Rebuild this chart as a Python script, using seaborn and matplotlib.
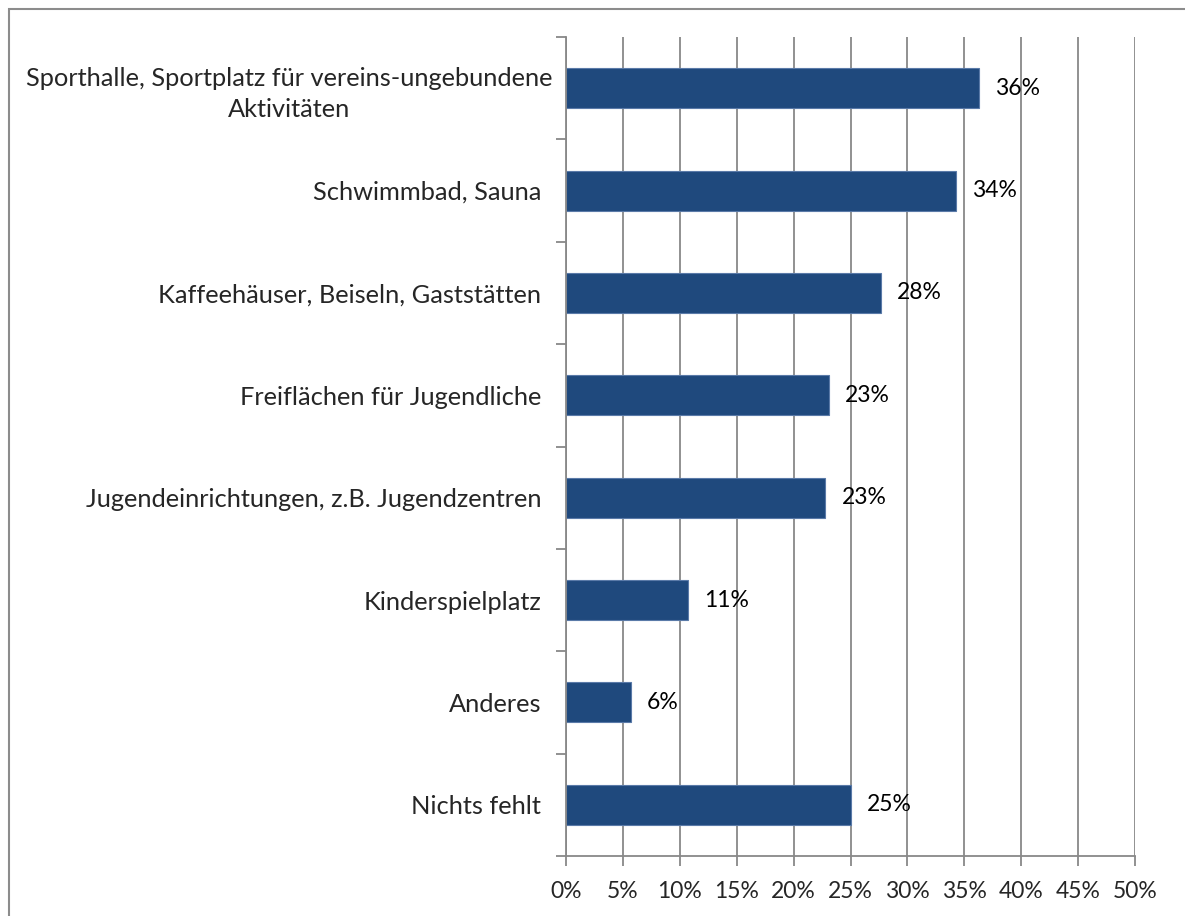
import matplotlib
matplotlib.use('Agg')
import matplotlib.pyplot as plt
import matplotlib.transforms as mtransforms
from matplotlib.patches import Rectangle
from matplotlib.ticker import FixedLocator, PercentFormatter
import pandas as pd
import seaborn as sns

categories = [
    'Sporthalle, Sportplatz für vereins-ungebundene\nAktivitäten',
    'Schwimmbad, Sauna',
    'Kaffeehäuser, Beiseln, Gaststätten',
    'Freiflächen für Jugendliche',
    'Jugendeinrichtungen, z.B. Jugendzentren',
    'Kinderspielplatz',
    'Anderes',
    'Nichts fehlt',
]
values = [36.3, 34.3, 27.7, 23.1, 22.8, 10.7, 5.7, 25.0]
value_labels = ['36%', '34%', '28%', '23%', '23%', '11%', '6%', '25%']
x_ticks = [0, 5, 10, 15, 20, 25, 30, 35, 40, 45, 50]

sns.set_style('white')
plt.rcParams['font.family'] = ['Lato', 'DejaVu Sans']

df = pd.DataFrame({'category': categories, 'value': values})

fig = plt.figure(figsize=(11.85, 9.16), dpi=100)
ax = fig.add_axes([566 / 1185, 1 - 856 / 916, (1135 - 566) / 1185, (856 - 37) / 916])

grid_col = '#888888'
ax.set_xlim(0, 50)
ax.set_xticks(x_ticks)
ax.xaxis.grid(True, color=grid_col, linewidth=1.3)
ax.set_axisbelow(True)

sns.barplot(data=df, x='value', y='category', orient='h', color='#1F497D',
            width=0.39, edgecolor='#5A7AA8', linewidth=0.8, saturation=1, ax=ax)

for i, (v, lab) in enumerate(zip(values, value_labels)):
    ax.text(v + 1.4, i, lab, va='center', ha='left', fontsize=16.5, color='black')

ax.set_ylim(len(categories) - 0.5, -0.5)
ax.set_xlabel('')
ax.set_ylabel('')
ax.xaxis.set_major_formatter(PercentFormatter(decimals=0))

for s in ['top', 'right']:
    ax.spines[s].set_visible(False)
for s in ['left', 'bottom']:
    ax.spines[s].set_color(grid_col)
    ax.spines[s].set_linewidth(1.3)

ax.tick_params(axis='x', direction='out', length=7, width=1.3, color=grid_col,
               labelsize=16.5, pad=11, bottom=True)
ax.tick_params(axis='y', which='major', length=0, labelsize=18.3, pad=18)
ax.yaxis.set_minor_locator(FixedLocator([i - 0.5 for i in range(len(categories) + 1)]))
ax.tick_params(axis='y', which='minor', direction='out', length=7, width=1.3,
               color=grid_col, left=True)
for lbl in ax.get_yticklabels():
    lbl.set_multialignment('center')
    lbl.set_linespacing(1.4)

# the wrapped first label sits a little further right in the original
first = ax.get_yticklabels()[0]
first.set_transform(first.get_transform() +
                    mtransforms.ScaledTranslation(11 / 100, 0, fig.dpi_scale_trans))

fig.patches.append(Rectangle((9 / 1185, -0.1), 1.2, 1 - 9 / 916 + 0.1,
                             transform=fig.transFigure, fill=False,
                             edgecolor='#8C8C8C', linewidth=1.5))

fig.savefig('out.png', dpi=100)
